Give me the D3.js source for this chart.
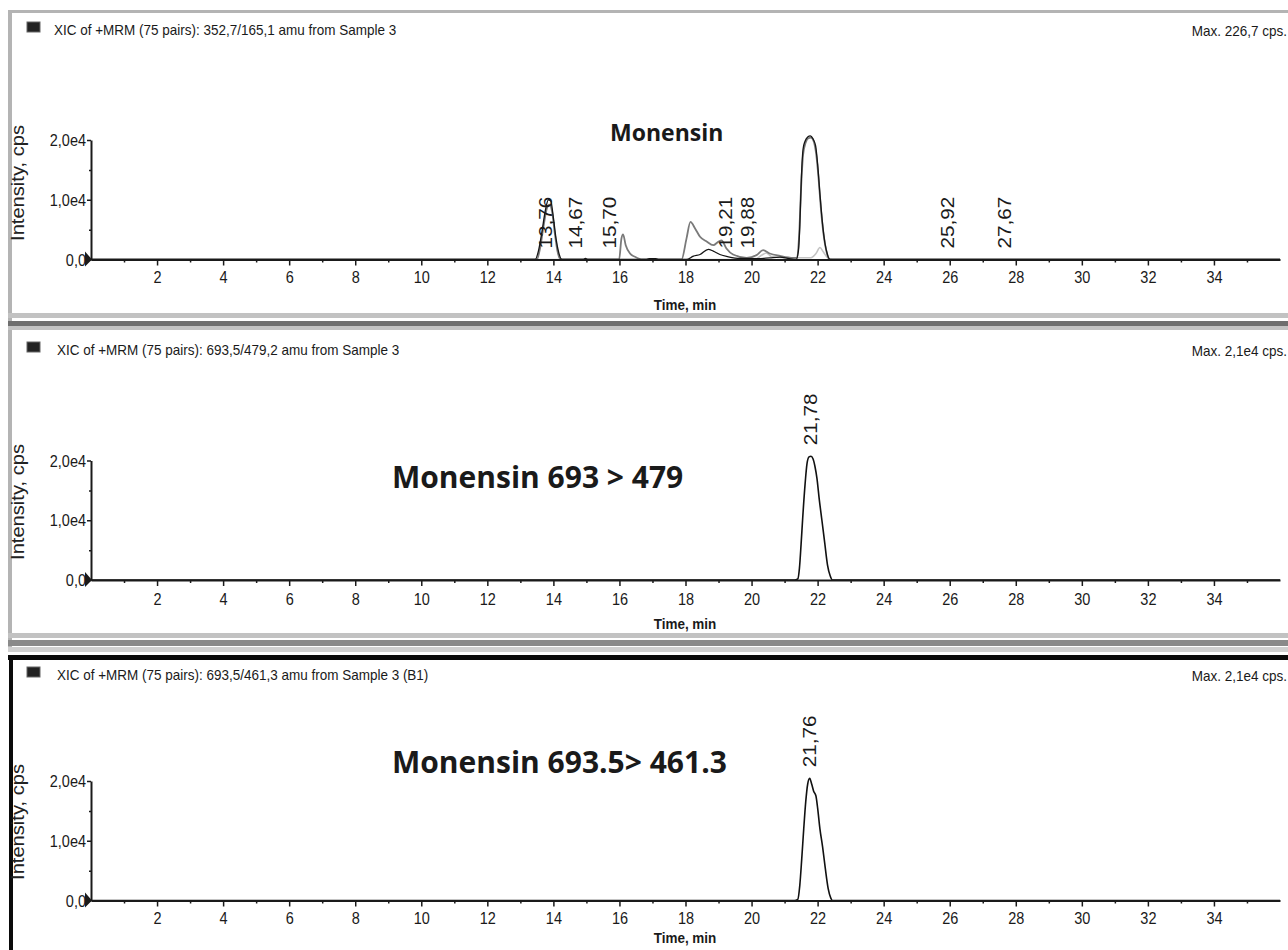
<!DOCTYPE html>
<html>
<head>
<meta charset="utf-8">
<script src="https://cdn.jsdelivr.net/npm/d3@7"></script>
<style>
body{margin:0;background:#fff;}
svg{display:block;font-family:"Liberation Sans",Arial,sans-serif;}
</style>
</head>
<body>
<svg id="chart" width="1288" height="950"></svg>
<script>
// values -- time in min, intensity in cps
var xTickValues = [2,4,6,8,10,12,14,16,18,20,22,24,26,28,30,32,34];
var xMinorValues = [1,3,5,7,9,11,13,15,17,19,21,23,25,27,29,31,33,35];
var yTickValues = [0,10000,20000];
var yTickLabels = ["0,0","1,0e4","2,0e4"];
var yMinorValues = [5000,15000];

var titles = [
  "XIC of +MRM (75 pairs): 352,7/165,1 amu from Sample 3",
  "XIC of +MRM (75 pairs): 693,5/479,2 amu from Sample 3",
  "XIC of +MRM (75 pairs): 693,5/461,3 amu from Sample 3 (B1)"
];
var maxLabels = ["Max. 226,7 cps.","Max. 2,1e4 cps.","Max. 2,1e4 cps."];
var notes = ["Monensin","Monensin 693 > 479","Monensin 693.5> 461.3"];

// panel 1 : overlaid traces
var p1Dark = [[0,0],[13.45,0],[13.55,1500],[13.65,4500],[13.75,8000],[13.85,10000],[13.92,9800],[14.0,7000],[14.08,3500],[14.16,1200],[14.26,0],
  [14.9,0],[14.97,180],[15.05,0],[16.8,0],[16.9,150],[17.1,150],[17.2,0],
  [18.03,0],[18.24,560],[18.44,840],[18.69,1700],[18.84,1400],[19.04,840],[19.3,450],[19.65,170],[20.2,150],[20.55,280],[20.86,390],[21.1,200],
  [21.35,0],[21.42,1500],[21.46,5500],[21.51,13900],[21.56,18500],[21.62,19800],[21.7,20500],[21.78,20700],[21.86,20200],[21.94,19000],[22.0,16000],[22.07,11000],[22.14,6500],[22.22,2800],[22.3,800],[22.38,0],[36,0]];
var p1Gray = [[0,0],[13.5,0],[13.6,2000],[13.7,5500],[13.8,8500],[13.88,9200],[13.96,8000],[14.04,4500],[14.12,1500],[14.22,0],
  [15.99,0],[16.06,3500],[16.11,4200],[16.19,2400],[16.32,1000],[16.47,450],[16.7,0],
  [17.88,0],[18.03,3500],[18.15,6300],[18.29,5200],[18.44,3800],[18.64,3000],[18.84,2400],[19.0,3000],[19.09,3200],[19.24,1850],[19.44,840],[19.85,280],[20.15,730],[20.35,1570],[20.55,1000],[20.86,600],[21.26,280],
  [21.38,300],[21.44,4000],[21.5,12000],[21.56,17500],[21.64,19600],[21.72,20300],[21.8,20400],[21.88,19800],[21.96,17500],[22.03,13500],[22.1,8500],[22.18,4200],[22.27,1300],[22.36,0],[36,0]];
var p1Light = [[0,0],[20.1,0],[20.3,700],[20.45,1100],[20.6,500],[21.0,300],[21.8,300],[21.95,1000],[22.07,2000],[22.17,1300],[22.3,300],[22.45,0],[36,0]];
var p1Peaks = [13.76,14.67,15.70,19.21,19.88,25.92,27.67];
var p1PeakHeights = [0,0,0,0,0,0,0];

// panel 2 : 693,5/479,2
var p2Trace = [[0,0],[21.3,0],[21.4,200],[21.45,2000],[21.5,6000],[21.55,10500],[21.62,16000],[21.68,19500],[21.74,20600],[21.8,20700],[21.86,20300],[21.92,19000],[21.98,17000],[22.05,13500],[22.13,10000],[22.22,6000],[22.3,2500],[22.38,700],[22.45,0],[36,0]];
var p2Peaks = [21.78];
var p2PeakHeights = [20700];

// panel 3 : 693,5/461,3
var p3Trace = [[0,0],[21.3,0],[21.4,200],[21.46,2500],[21.52,7000],[21.58,12000],[21.64,16500],[21.7,19500],[21.76,20450],[21.82,19500],[21.88,18300],[21.95,17500],[22.0,15500],[22.07,12000],[22.15,9000],[22.23,5500],[22.32,2000],[22.4,400],[22.45,0],[36,0]];
var p3Peaks = [21.76];
var p3PeakHeights = [20450];

var panels = [
  {zero:259.5, titleY:35, tickY:283, timeY:310, labelY:183, noteX:610, noteY:141, noteSize:23, titleX:54,
   traces:[{d:p1Light,c:"#c4c4c4",w:1.6},{d:p1Gray,c:"#7a7a7a",w:1.8},{d:p1Dark,c:"#151515",w:1.3}], peaks:p1Peaks, heights:p1PeakHeights},
  {zero:580, titleY:355, tickY:605, timeY:629, labelY:502, noteX:392, noteY:488, noteSize:30, titleX:57,
   traces:[{d:p2Trace,c:"#111",w:1.6}], peaks:p2Peaks, heights:p2PeakHeights},
  {zero:900.5, titleY:680, tickY:924, timeY:943, labelY:822, noteX:392, noteY:773, noteSize:30, titleX:57,
   traces:[{d:p3Trace,c:"#111",w:1.6}], peaks:p3Peaks, heights:p3PeakHeights}
];

var svg = d3.select("#chart");
var stretch = 1.15; // the screenshot text is a bit taller than wide

var x = d3.scaleLinear().domain([0,36]).range([91,1280]);

// frames round the panels
svg.append("rect").attr("x",8).attr("y",10).attr("width",1290).attr("height",3).attr("fill","#b4b4b4");
svg.append("rect").attr("x",8).attr("y",10).attr("width",4).attr("height",638).attr("fill","#b4b4b4");
svg.append("rect").attr("x",8).attr("y",313).attr("width",1290).attr("height",5).attr("fill","#c2c2c2");
svg.append("rect").attr("x",8).attr("y",321).attr("width",1290).attr("height",5).attr("fill","#6e6e6e");
svg.append("rect").attr("x",8).attr("y",326).attr("width",1290).attr("height",4).attr("fill","#c2c2c2");
svg.append("rect").attr("x",8).attr("y",633).attr("width",1290).attr("height",5).attr("fill","#c2c2c2");
svg.append("rect").attr("x",8).attr("y",640).attr("width",1290).attr("height",6).attr("fill","#8a8a8a");
svg.append("rect").attr("x",8).attr("y",647).attr("width",1290).attr("height",5).attr("fill","#d0d0d0");
svg.append("rect").attr("x",8).attr("y",655).attr("width",1290).attr("height",5).attr("fill","#0a0a0a");
svg.append("rect").attr("x",9).attr("y",655).attr("width",4).attr("height",300).attr("fill","#0a0a0a");

function txt(g, px, py, s, size, opt){
  opt = opt || {};
  var t = g.append("text")
    .attr("transform","translate("+px+","+py+") scale(1,"+(opt.noStretch?1:stretch)+")"+(opt.rot?" rotate(-90)":""))
    .attr("font-size",size+"px")
    .attr("fill",opt.fill||"#1a1a1a")
    .attr("text-anchor",opt.anchor||"start")
    .text(s);
  if(opt.bold) t.attr("font-weight","bold");
  if(opt.family) t.style("font-family",opt.family);
  return t;
}

panels.forEach(function(p, i){
  var g = svg.append("g");
  var y = d3.scaleLinear().domain([0,20000]).range([p.zero, p.zero-119.5]);

  // header
  g.append("rect").attr("x",27).attr("y",p.titleY-13).attr("width",13).attr("height",10)
    .attr("fill","#222").attr("stroke","#666").attr("stroke-width",1);
  txt(g, p.titleX, p.titleY, titles[i], 13.5);
  txt(g, 1287, p.titleY+1, maxLabels[i], 13.5, {anchor:"end"});

  // traces
  var line = d3.line().x(function(d){return x(d[0]);}).y(function(d){return y(d[1]);}).curve(d3.curveMonotoneX);
  p.traces.forEach(function(t){
    g.append("path").datum(t.d).attr("d",line).attr("fill","none")
      .attr("stroke",t.c).attr("stroke-width",t.w).attr("stroke-linejoin","round");
  });

  // x axis
  var xa = g.append("g").attr("transform","translate(0,"+p.zero+")")
    .call(d3.axisBottom(x).tickValues(xTickValues).tickSize(6).tickSizeOuter(0).tickFormat(d3.format("d")));
  xa.select(".domain").attr("stroke","#1a1a1a").attr("stroke-width",2);
  xa.selectAll(".tick line").attr("stroke","#1a1a1a").attr("stroke-width",1.5);
  xa.selectAll(".tick text").attr("y",0).attr("dy",null)
    .attr("transform","translate(0,"+(p.tickY-p.zero)+") scale(1,"+stretch+")")
    .attr("font-size","14.5px").attr("fill","#1a1a1a").style("font-family",null);
  var xm = g.append("g").attr("transform","translate(0,"+p.zero+")")
    .call(d3.axisBottom(x).tickValues(xMinorValues).tickSize(3).tickFormat(""));
  xm.select(".domain").remove();
  xm.selectAll(".tick line").attr("stroke","#1a1a1a").attr("stroke-width",1.5);

  // y axis
  var ya = g.append("g").attr("transform","translate("+x(0)+",0)")
    .call(d3.axisLeft(y).tickValues(yTickValues).tickSize(4).tickSizeOuter(0)
      .tickFormat(function(d,k){return yTickLabels[k];}));
  ya.select(".domain").attr("stroke","#1a1a1a").attr("stroke-width",2);
  ya.selectAll(".tick line").attr("stroke","#1a1a1a").attr("stroke-width",1.5);
  ya.selectAll(".tick text").attr("x",0).attr("dy",null)
    .attr("transform","translate(-5,5.5) scale(1,"+stretch+")")
    .attr("font-size","14.5px").attr("fill","#1a1a1a").style("font-family",null);
  var ym = g.append("g").attr("transform","translate("+x(0)+",0)")
    .call(d3.axisLeft(y).tickValues(yMinorValues).tickSize(2).tickFormat(""));
  ym.select(".domain").remove();
  ym.selectAll(".tick line").attr("stroke","#1a1a1a").attr("stroke-width",1.5);

  // origin marker
  g.append("path").attr("d","M"+(x(0)-6)+","+(p.zero-8)+"L"+(x(0)+1)+","+p.zero+"L"+(x(0)-6)+","+(p.zero+7)+"Z")
    .attr("fill","#1a1a1a");

  // axis titles
  txt(g, 24, p.labelY, "Intensity, cps", 17.5, {rot:true, anchor:"middle", fill:"#222"});
  txt(g, 685, p.timeY, "Time, min", 13.5, {anchor:"middle", bold:true});

  // peak retention times
  p.peaks.forEach(function(rt, k){
    txt(g, x(rt)+6.5, y(p.heights[k])-11, d3.format(".2f")(rt).replace(".",","), 18, {rot:true, fill:"#1a1a1a"});
  });

  // annotation
  txt(g, p.noteX, p.noteY, notes[i], p.noteSize, {bold:true, noStretch:true, family:"'Open Sans',sans-serif", fill:"#1a1a1a"});
});
</script>
</body>
</html>
